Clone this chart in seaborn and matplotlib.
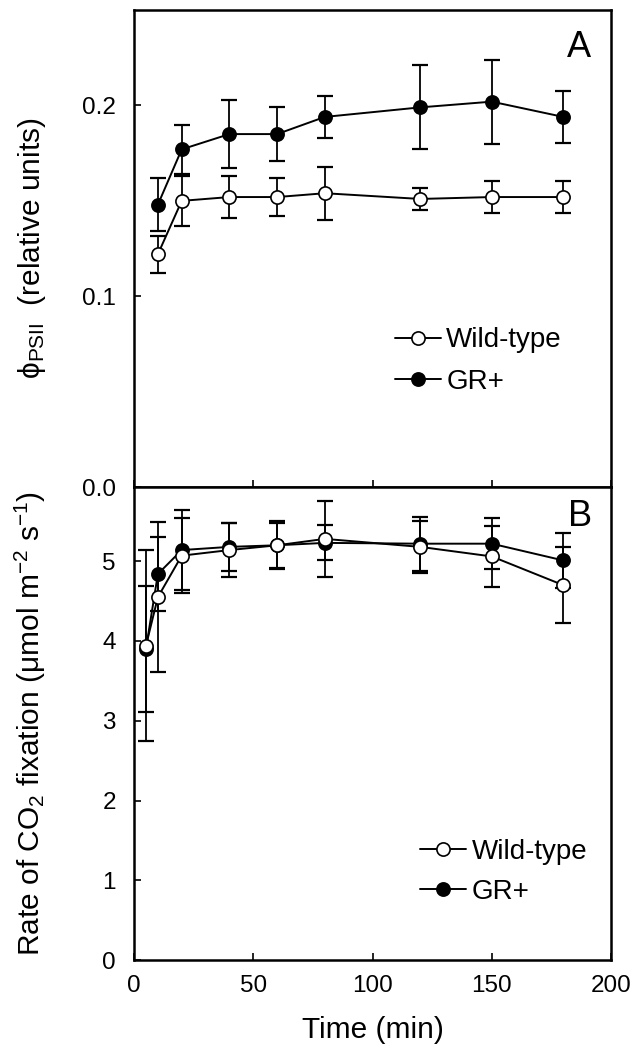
import matplotlib
matplotlib.use("Agg")
import matplotlib.pyplot as plt
import seaborn as sns
import pandas as pd

# panel A: PSII efficiency
time_a = [10, 20, 40, 60, 80, 120, 150, 180]
phi_wt = [0.122, 0.150, 0.152, 0.152, 0.154, 0.151, 0.152, 0.152]
phi_wt_err = [0.0097, 0.013, 0.011, 0.010, 0.014, 0.006, 0.0083, 0.0085]
phi_gr = [0.148, 0.177, 0.185, 0.185, 0.194, 0.199, 0.202, 0.194]
phi_gr_err = [0.014, 0.013, 0.018, 0.014, 0.011, 0.022, 0.022, 0.0135]

# panel B: CO2 fixation
time_b = [5, 10, 20, 40, 60, 80, 120, 150, 180]
co2_wt = [3.94, 4.55, 5.07, 5.14, 5.20, 5.28, 5.18, 5.06, 4.70]
co2_wt_err = [1.20, 0.94, 0.47, 0.34, 0.30, 0.48, 0.33, 0.38, 0.48]
co2_gr = [3.90, 4.84, 5.14, 5.18, 5.20, 5.23, 5.22, 5.22, 5.01]
co2_gr_err = [0.79, 0.47, 0.50, 0.30, 0.28, 0.22, 0.34, 0.32, 0.34]

groups = ["Wild-type", "GR+"]
faces = {"Wild-type": "white", "GR+": "black"}

sns.set_style("ticks")
plt.rcParams["font.family"] = ["Liberation Sans", "DejaVu Sans"]
plt.rcParams["mathtext.fontset"] = "custom"
plt.rcParams["mathtext.rm"] = "Liberation Sans"
plt.rcParams["mathtext.it"] = "Liberation Sans:italic"
plt.rcParams["mathtext.bf"] = "Liberation Sans:bold"
plt.rcParams["axes.unicode_minus"] = True
for k in ["axes.edgecolor", "text.color", "axes.labelcolor", "xtick.color", "ytick.color"]:
    plt.rcParams[k] = "black"

df_a = pd.concat([
    pd.DataFrame({"time": time_a, "val": phi_wt, "err": phi_wt_err, "group": "Wild-type"}),
    pd.DataFrame({"time": time_a, "val": phi_gr, "err": phi_gr_err, "group": "GR+"}),
])
df_b = pd.concat([
    pd.DataFrame({"time": time_b, "val": co2_wt, "err": co2_wt_err, "group": "Wild-type"}),
    pd.DataFrame({"time": time_b, "val": co2_gr, "err": co2_gr_err, "group": "GR+"}),
])

fig = plt.figure(figsize=(6.37, 10.49), dpi=100)
ax_a = fig.add_axes([0.2104, 0.5357, 0.7488, 0.4547])
ax_b = fig.add_axes([0.2104, 0.0848, 0.7488, 0.4509])


def draw(ax, df):
    handles = {}
    # GR+ first so the open circles sit on top
    for g in ["GR+", "Wild-type"]:
        d = df[df["group"] == g]
        ax.errorbar(d["time"], d["val"], yerr=d["err"], fmt="none", ecolor="black",
                    elinewidth=1.3, capsize=5.5, capthick=1.6, zorder=2)
        sns.lineplot(x=d["time"], y=d["val"], ax=ax, color="black", lw=1.4,
                     marker="o", ms=9.5, mfc=faces[g], mec="black", mew=1.2,
                     label=g, zorder=3)
    h, l = ax.get_legend_handles_labels()
    for hh, ll in zip(h, l):
        handles[ll] = hh
    return [handles[g] for g in groups]


for ax, df in [(ax_a, df_a), (ax_b, df_b)]:
    hs = draw(ax, df)
    ax.set_xlim(0, 200)
    ax.set_xticks([0, 50, 100, 150, 200])
    for s in ax.spines.values():
        s.set_linewidth(1.8)
        s.set_visible(True)
        s.set_color("black")
    ax.tick_params(direction="in", length=5, width=1.2, labelsize=17.5, top=False, right=False)
    ax.tick_params(axis="y", pad=13)
    ax.tick_params(axis="x", pad=11)
    ax.set_xlabel("")
    ax.set_ylabel("")
    ax.hs = hs

ax_a.set_ylim(0, 0.25)
ax_a.set_yticks([0.0, 0.1, 0.2])
ax_a.set_yticklabels(["0.0", "0.1", "0.2"])
ax_a.tick_params(axis="x", labelbottom=False)
ax_a.set_ylabel("\u03d5$_{\\mathrm{PSII}}$  (relative units)", fontsize=21.5)
ax_a.yaxis.set_label_coords(-0.18, 0.5)
ax_a.text(0.933, 0.922, "A", transform=ax_a.transAxes, fontsize=26, ha="center", va="center")
ax_a.legend(handles=ax_a.hs, labels=groups, loc="center left", bbox_to_anchor=(0.547, 0.264),
            frameon=False, fontsize=20, handlelength=1.65, handletextpad=0.2,
            labelspacing=0.55, borderpad=0, borderaxespad=0)

ax_b.set_ylim(0, 5.93)
ax_b.set_yticks([0, 1, 2, 3, 4, 5])
ax_b.set_ylabel("Rate of CO$_2$ fixation (\u03bcmol m$^{-2}$ s$^{-1}$)", fontsize=21.5)
ax_b.yaxis.set_label_coords(-0.18, 0.5)
ax_b.set_xlabel("Time (min)", fontsize=21.5)
ax_b.xaxis.set_label_coords(0.5, -0.118)
ax_b.text(0.935, 0.937, "B", transform=ax_b.transAxes, fontsize=26, ha="center", va="center")
ax_b.legend(handles=ax_b.hs, labels=groups, loc="center left", bbox_to_anchor=(0.6, 0.186),
            frameon=False, fontsize=20, handlelength=1.65, handletextpad=0.2,
            labelspacing=0.5, borderpad=0, borderaxespad=0)

fig.savefig("out.png", dpi=100)
